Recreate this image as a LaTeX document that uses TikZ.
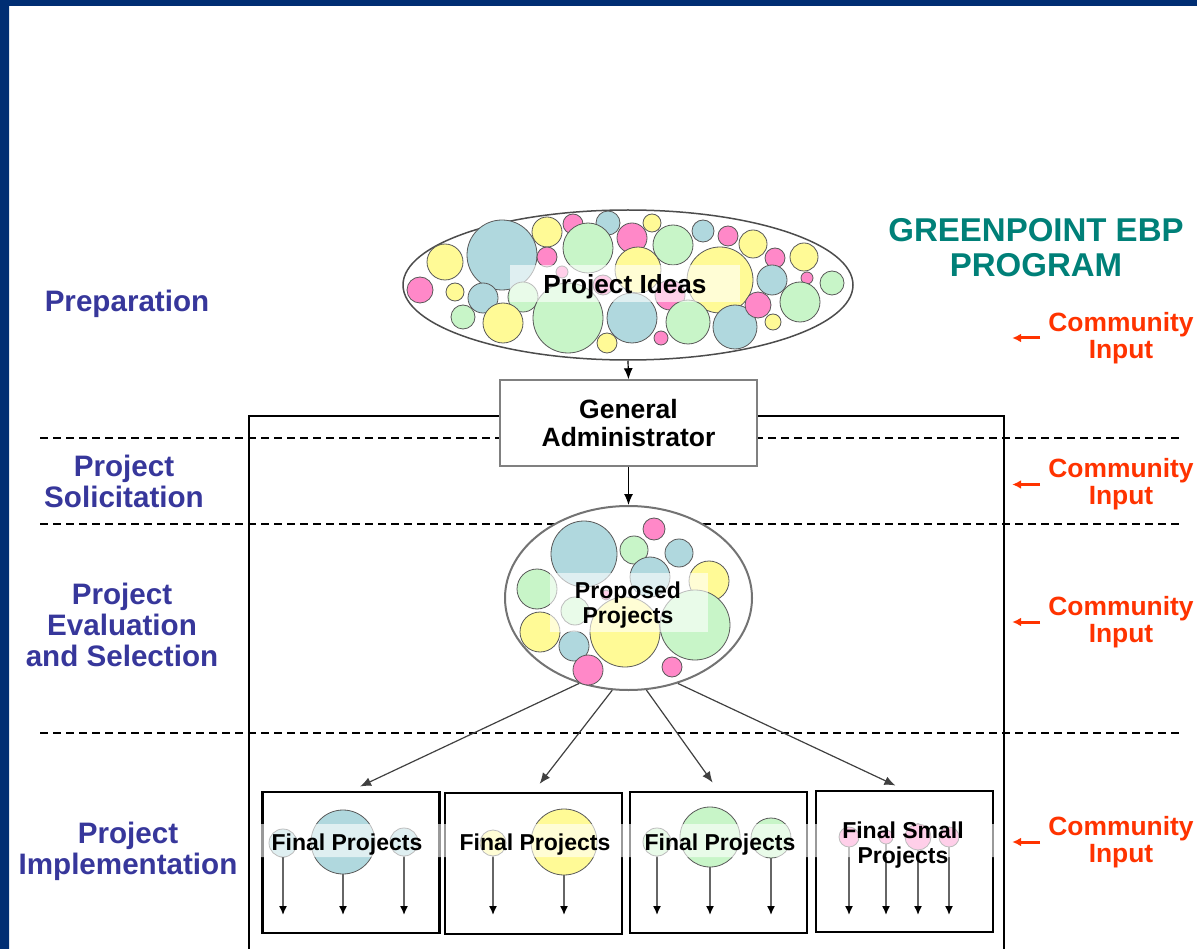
\documentclass[tikz,border=0pt]{standalone}
\usepackage{fontspec}
\setmainfont{Liberation Sans}
\usetikzlibrary{arrows.meta,shapes.geometric,positioning}
\definecolor{edgeblue}{RGB}{0,46,115}
\definecolor{phaseblue}{RGB}{55,55,155}
\definecolor{inputred}{RGB}{255,51,0}
\definecolor{titlegreen}{RGB}{0,128,120}
\definecolor{bubY}{RGB}{255,250,150}
\definecolor{bubG}{RGB}{200,245,200}
\definecolor{bubB}{RGB}{176,216,222}
\definecolor{bubP}{RGB}{255,136,200}
\tikzset{%
  phase/.style={text=phaseblue,font=\fontsize{29.6}{31}\selectfont\bfseries,align=center,inner sep=0},
  cinput/.style={text=inputred,font=\fontsize{26.4}{27}\selectfont\bfseries,align=center,inner sep=0,yshift=-2.5pt},
  lbl/.style={font=\fontsize{23}{25}\selectfont\bfseries,align=center,inner sep=0,yshift=-2.5pt},
  bub/.style={draw=black!65,line width=0.8},
  band/.style={white,opacity=0.6},
  idea/.style={ellipse,draw=black!70,fill=white,line width=1.5,minimum width=450,minimum height=150,inner sep=0},
  pool/.style={ellipse,draw=black!55,fill=white,line width=2,minimum width=247,minimum height=184,inner sep=0},
  admin/.style={rectangle,draw=black!50,fill=white,line width=1.5,minimum width=257,minimum height=86,
    font=\fontsize{26.5}{28}\selectfont\bfseries,align=center},
  final/.style={rectangle,draw=black,line width=2.5,minimum width=177,minimum height=141},
  divider/.style={dash pattern=on 8pt off 5pt,line width=1.5},
  spoke/.style={->,black!75,line width=1.2,shorten >=10pt},
  drop/.style={-{Latex[length=9pt,width=8pt,color=black]},black!60,line width=1.5},
  inarrow/.style={-{Latex[length=9pt,width=9pt]},inputred,line width=3}%
}
\begin{document}
\begin{tikzpicture}[x=1pt,y=-1pt,>={Latex[length=11pt,width=9pt]}]
  \useasboundingbox (0,0) rectangle (1197,949);
  \fill[edgeblue] (0,0) rectangle (1197,6) (0,0) rectangle (9,949);

  \foreach \y in {438,524,733} \draw[divider] (40,\y) -- (1180,\y);
  \draw[line width=2.5] (249,949) |- (1004,416) -- (1004,949);

  \node[phase] (prep) at (127,304) {Preparation};
  \node[phase] (solic) at (124,481) {Project\\Solicitation};
  \node[phase] (evalsel) at (122,625) {Project\\Evaluation\\and Selection};
  \node[phase] (impl) at (128,851) {Project\\Implementation};

  \node[text=titlegreen,font=\fontsize{33}{35}\selectfont\bfseries,align=center] (title) at (1036,247.5) {GREENPOINT EBP\\PROGRAM};

  \foreach \i/\y in {1/335.5,2/482,3/619.5,4/839.5} {
    \node[cinput] (ci\i) at (1121,\y) {Community\\Input};
    \draw[inarrow] ([xshift=-8pt]ci\i.west) -- ([xshift=-36pt]ci\i.west);
  }

  \node[idea] (ideas) at (628,285) {};
  \foreach \cx/\cy/\r/\col in {445/262/18/bubY,502/255/35/bubB,547/232/15/bubY,573/224/10/bubP,608/223/12/bubB,
      652/223/9/bubY,547/257/10/bubP,588/248/25/bubG,632/238/15/bubP,673/245/20/bubG,703/231/11/bubB,
      728/236/10/bubP,753/244/14/bubY,775/258/10/bubP,804/257/14/bubY,638/270/23/bubY,720/280/33/bubY,
      562/272/6/bubP,420/290/13/bubP,455/292/9/bubY,483/298/15/bubB,523/297/15/bubG,603/285/10/bubP,
      670/295/15/bubP,772/280/15/bubB,807/278/6/bubP,832/283/12/bubG,463/317/12/bubG,503/323/20/bubY,
      568/318/35/bubG,632/318/25/bubB,688/322/22/bubG,735/327/22/bubB,758/305/13/bubP,800/302/20/bubG,
      773/322/8/bubY,661/338/7/bubP,607/343/10/bubY}
    \draw[bub,fill=\col] (\cx,\cy) circle[radius=\r];
  \fill[band] (510,265) rectangle (740,302);
  \node[lbl,font=\fontsize{26.2}{28}\selectfont\bfseries] (ideaslbl) at (625,284) {Project Ideas};

  \node[admin] (admin) at (628.5,423) {General\\Administrator};

  \node[pool] (prop) at (628.5,598) {};
  \foreach \cx/\cy/\r/\col in {584/554/33/bubB,654/529/11/bubP,634/550/14/bubG,679/553/14/bubB,537/589/20/bubG,
      650/577/20/bubB,709/581/20/bubY,575/611/14/bubG,606/595/5/bubP,540/632/20/bubY,625/632/35/bubY,
      695/625/35/bubG,574/646/15/bubB,588/670/15/bubP,672/667/10/bubP}
    \draw[bub,fill=\col] (\cx,\cy) circle[radius=\r];
  \fill[band] (550,573) rectangle (708,632);
  \node[lbl] (proplbl) at (628,603) {Proposed\\Projects};

  \path (ideas.south) edge[->,line width=1.2] (admin.north)
        (admin.south) edge[->,line width=1.2] (prop.north);

  \node[final] (fp1) at (351,862.5) {};
  \node[final] (fp2) at (533.5,863.5) {};
  \node[final] (fp3) at (718.5,862.5) {};
  \node[final] (fp4) at (904.5,861.5) {};

  \foreach \a/\t in {240/fp1,260/fp2,281/fp3,300/fp4}
    \draw[spoke] (prop.\a) -- (\t.north);

  \coordinate (low) at (0,915);
  \foreach \n/\cx/\cy/\r/\col in {1/283/843/14/bubB,2/343/842/32/bubB,3/404/842/14/bubB,
      4/493/843/13/bubY,5/564/842/33/bubY,
      6/657/842/14/bubG,7/710/837/30/bubG,8/771/838/20/bubG,
      9/849/837/10/bubP,10/886/837/7/bubP,11/918/837/13/bubP,12/949/837/10/bubP} {
    \node[bub,circle,fill=\col,minimum size=2*\r pt,inner sep=0] (s\n) at (\cx,\cy) {};
    \draw[drop] (s\n.south) -- (s\n.south |- low);
  }
  \fill[band] (259,824) rectangle (443,857)
              (442,824) rectangle (625,857)
              (628,824) rectangle (809,857)
              (814,824) rectangle (995,857);

  \node[lbl] (fp1lbl) at (347,842) {Final Projects};
  \node[lbl] (fp2lbl) at (535,842) {Final Projects};
  \node[lbl] (fp3lbl) at (720,842) {Final Projects};
  \node[lbl] (fp4lbl) at (903,842.5) {Final Small\\Projects};
\end{tikzpicture}
\end{document}
